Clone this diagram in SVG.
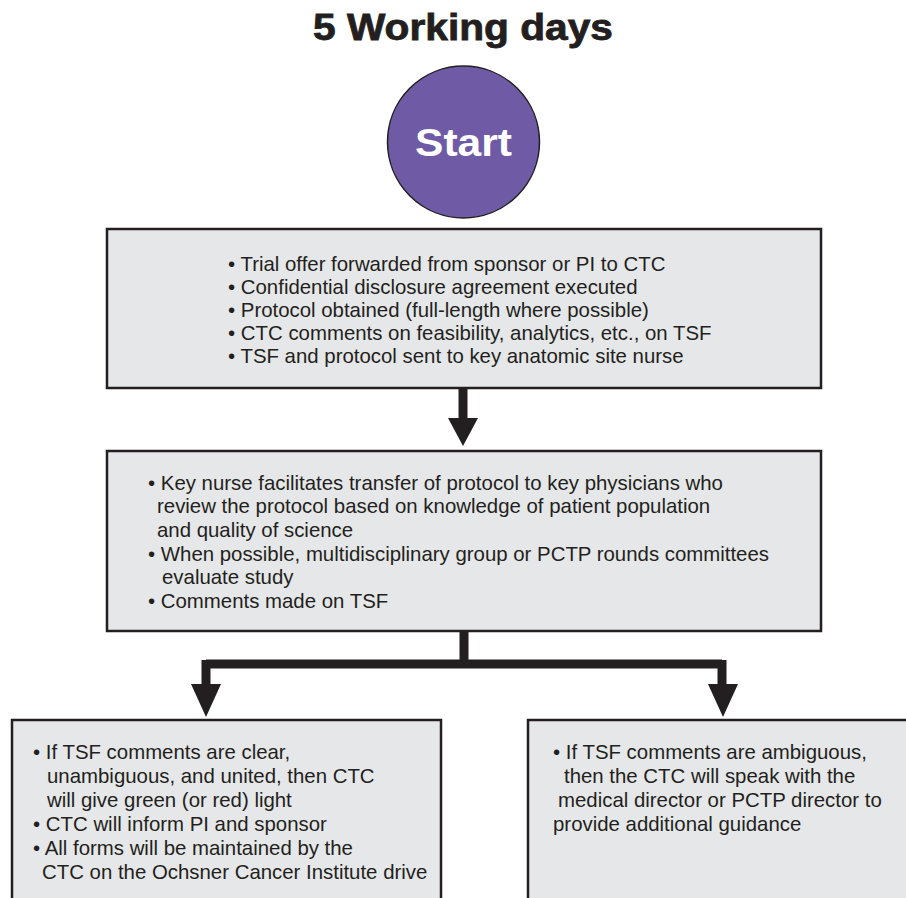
<svg xmlns="http://www.w3.org/2000/svg" width="906" height="898" viewBox="0 0 906 898">
<style>
.box{fill:#e6e7e8;stroke:#231f20;stroke-width:2.5}
.t{font-family:"Liberation Sans",Arial,sans-serif;font-size:20.4px;fill:#231f20}
.conn{fill:none;stroke:#231f20;stroke-width:9;stroke-linejoin:miter}
.head{fill:#231f20}
</style>
<rect width="906" height="898" fill="#ffffff"/>
<text x="463" y="40" text-anchor="middle" font-family="'Liberation Sans',Arial,sans-serif" font-weight="900" font-size="36" fill="#231f20" stroke="#231f20" stroke-width="0.8" textLength="300" lengthAdjust="spacingAndGlyphs">5 Working days</text>
<g id="start">
<circle cx="463.5" cy="142" r="76" fill="#6f5ba5" stroke="#231f20" stroke-width="1.5"/>
<text x="463.5" y="156" text-anchor="middle" font-family="'Liberation Sans',Arial,sans-serif" font-weight="bold" font-size="39" fill="#ffffff" textLength="97" lengthAdjust="spacingAndGlyphs">Start</text>
</g>
<g id="box1">
<rect class="box" x="107" y="229" width="714" height="159"/>
<text class="t" x="228" y="271">• Trial offer forwarded from sponsor or PI to CTC</text>
<text class="t" x="228" y="294">• Confidential disclosure agreement executed</text>
<text class="t" x="228" y="317">• Protocol obtained (full-length where possible)</text>
<text class="t" x="228" y="340">• CTC comments on feasibility, analytics, etc., on TSF</text>
<text class="t" x="228" y="363">• TSF and protocol sent to key anatomic site nurse</text>
</g>
<g id="box2">
<rect class="box" x="107" y="451" width="714" height="180"/>
<text class="t" x="148" y="490">• Key nurse facilitates transfer of protocol to key physicians who</text>
<text class="t" x="157" y="513">review the protocol based on knowledge of patient population</text>
<text class="t" x="157" y="537">and quality of science</text>
<text class="t" x="148" y="561">• When possible, multidisciplinary group or PCTP rounds committees</text>
<text class="t" x="162" y="584">evaluate study</text>
<text class="t" x="148" y="608">• Comments made on TSF</text>
</g>
<g id="box3">
<rect class="box" x="12" y="720" width="429" height="190"/>
<text class="t" x="33" y="759">• If TSF comments are clear,</text>
<text class="t" x="47" y="783">unambiguous, and united, then CTC</text>
<text class="t" x="47" y="807">will give green (or red) light</text>
<text class="t" x="33" y="831">• CTC will inform PI and sponsor</text>
<text class="t" x="33" y="855">• All forms will be maintained by the</text>
<text class="t" x="42" y="879">CTC on the Ochsner Cancer Institute drive</text>
</g>
<g id="box4">
<rect class="box" x="528" y="720" width="390" height="190"/>
<text class="t" x="553" y="759">• If TSF comments are ambiguous,</text>
<text class="t" x="564" y="783">then the CTC will speak with the</text>
<text class="t" x="558" y="807">medical director or PCTP director to</text>
<text class="t" x="553" y="831">provide additional guidance</text>
</g>
<g id="connectors">
<path class="conn" d="M463 389 V420"/>
<polygon class="head" points="448,418 478,418 463,446"/>
<path class="conn" d="M464 632 V664 M206 664 H722 M206 660 V686 M722 660 V686"/>
<polygon class="head" points="191,684 221,684 206,717"/>
<polygon class="head" points="708,684 738,684 723,717"/>
</g>
</svg>
